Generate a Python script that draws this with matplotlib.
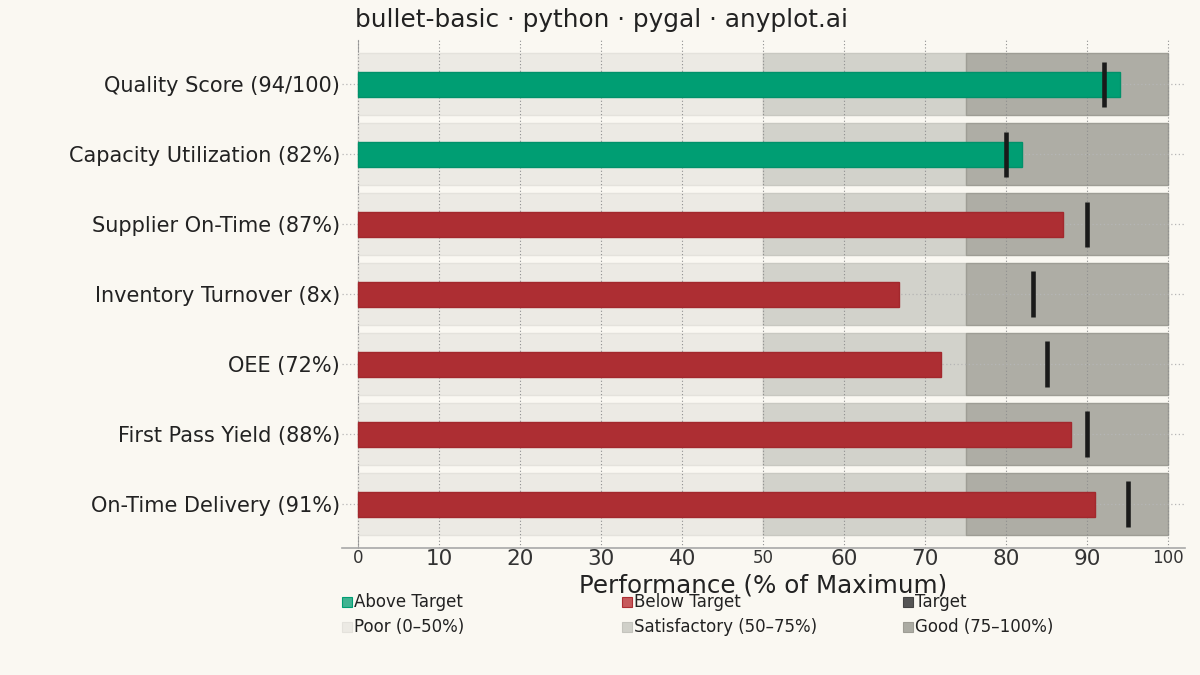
import matplotlib
matplotlib.use("Agg")
import matplotlib.pyplot as plt
from matplotlib.patches import Rectangle
import numpy as np

# metrics, actual (% of max) and targets
labels = ["Quality Score (94/100)", "Capacity Utilization (82%)",
          "Supplier On-Time (87%)", "Inventory Turnover (8x)",
          "OEE (72%)", "First Pass Yield (88%)", "On-Time Delivery (91%)"]
values = [94, 82, 87, 66.7, 72, 88, 91]
targets = [92, 80, 90, 83.3, 85, 90, 95]

# qualitative ranges
range_edges = [0, 50, 75, 100]
range_names = ["Poor (0–50%)", "Satisfactory (50–75%)", "Good (75–100%)"]
range_colors = ["#ECEAE4", "#D2D2CB", "#AEADA5"]
range_edge_colors = ["#E4E2DC", "#C8C8C1", "#9E9D95"]

xticks = [0, 10, 20, 30, 40, 50, 60, 70, 80, 90, 100]

bg = "#FAF8F2"
green = "#009E73"
red = "#AD2E33"
ink = "#222222"

fig = plt.figure(figsize=(12, 6.75), dpi=100, facecolor=bg)
ax = fig.add_axes([0.285, 0.1881, 0.7025, 0.7526])
ax.set_facecolor(bg)

# spine first: moving it resets tick properties
for s in ["top", "right"]:
    ax.spines[s].set_visible(False)
ax.spines["left"].set_position(("data", 0))
ax.spines["left"].set_color("#A8A8A8")
ax.spines["left"].set_zorder(0.1)
ax.spines["bottom"].set_color("#A8A8A8")
ax.spines["bottom"].set_linewidth(1.2)

y = np.arange(len(labels))

# background ranges
for i in range(len(range_names)):
    lo, hi = range_edges[i], range_edges[i + 1]
    ax.barh(y, hi - lo, left=lo, height=0.886, color=range_colors[i],
            edgecolor=range_edge_colors[i], linewidth=1, zorder=0.2)

# actual bars
bar_colors = [green if v >= t else red for v, t in zip(values, targets)]
edge_colors = ["#00916A" if v >= t else "#A2282D" for v, t in zip(values, targets)]
ax.barh(y, values, height=0.357, color=bar_colors, edgecolor=edge_colors,
        linewidth=1, zorder=2)

# target markers
ax.vlines(targets, y - 0.322, y + 0.322, color="#1A1A1A", linewidth=3.3,
          zorder=3)

ax.set_xlim(-2.0, 102.06)
ax.set_ylim(len(labels) - 1 + 0.629, -0.629)

ax.set_xticks(xticks)
ax.set_xticklabels([str(t) for t in xticks], color="#333333")
for t, lab in zip(xticks, ax.get_xticklabels()):
    lab.set_fontsize(12 if t in (0, 50, 100) else 15.5)
ax.set_yticks(y)
ax.set_yticklabels(labels, fontsize=15, color=ink)
ax.tick_params(axis="x", length=0, pad=1)
ax.tick_params(axis="y", length=0, pad=13)

ax.set_axisbelow(True)
ax.grid(axis="x", color="#8F8F8F", linestyle=(0, (1, 2)), linewidth=0.8)
ax.grid(axis="y", color="#B5B5B5", linestyle=(0, (1, 2)), linewidth=0.9)

fig.text(0.296, 0.96, "bullet-basic · python · pygal · anyplot.ai",
         fontsize=17.8, color=ink, va="baseline", ha="left")
fig.text(0.6363, 1 - 593 / 675, "Performance (% of Maximum)",
         fontsize=17.7, color=ink, va="baseline", ha="center")

# legend, two rows of three
leg_items = [("Above Target", "#40B391", green),
             ("Below Target", "#C65A5C", red),
             ("Target", "#555555", "#444444"),
             (range_names[0], "#ECEAE4", "#E4E2DC"),
             (range_names[1], "#D0D0C9", "#C4C4BD"),
             (range_names[2], "#ABABA3", "#9E9D95")]
col_x = [342, 622, 903]
row_y = [607, 632]
for k, (name, fc, ec) in enumerate(leg_items):
    px = col_x[k % 3]
    py = row_y[k // 3]
    fig.add_artist(Rectangle((px / 1200, 1 - py / 675), 10 / 1200, 10 / 675,
                             facecolor=fc, edgecolor=ec, linewidth=0.8,
                             transform=fig.transFigure))
    fig.text((px + 12) / 1200, 1 - py / 675, name, fontsize=12, color=ink,
             va="baseline", ha="left")

fig.savefig("out.png", dpi=100, facecolor=bg)
